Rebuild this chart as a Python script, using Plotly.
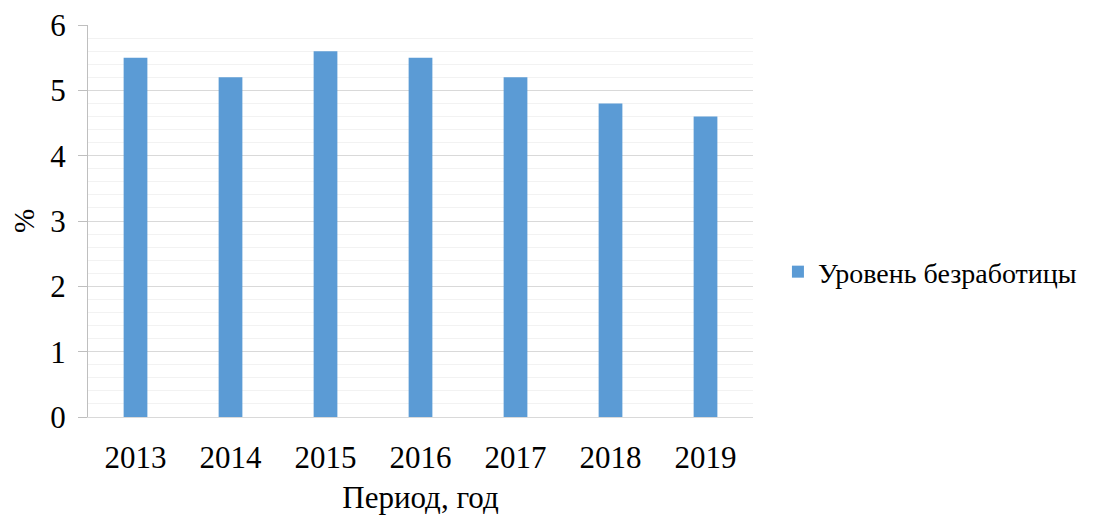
import plotly.graph_objects as go

years = ["2013", "2014", "2015", "2016", "2017", "2018", "2019"]
unemployment = [5.5, 5.2, 5.6, 5.5, 5.2, 4.8, 4.6]
series_name = "Уровень безработицы"

FONT = "Times New Roman, Liberation Serif, serif"

fig = go.Figure()
fig.add_trace(go.Bar(
    x=years, y=unemployment, name=series_name,
    marker=dict(color="#5b9bd5", line=dict(width=0)),
    width=0.25, showlegend=True,
))

fig.update_layout(
    width=1085, height=509,
    paper_bgcolor="white", plot_bgcolor="white",
    margin=dict(l=80, r=340, t=17, b=100, autoexpand=False),
    font=dict(family=FONT, size=31, color="#000000"),
    showlegend=True,
    legend=dict(x=1.0375, y=0.37, xanchor="left", yanchor="middle",
                font=dict(family=FONT, size=28, color="#000000"),
                itemwidth=30, bgcolor="rgba(0,0,0,0)"),
)
fig.update_yaxes(
    range=[0, 6], dtick=1, tick0=0, automargin=False,
    showgrid=True, gridcolor="#d9d9d9", gridwidth=1,
    minor=dict(dtick=0.2, showgrid=True, gridcolor="#f2f2f2", gridwidth=1),
    showline=True, linecolor="#bfbfbf", linewidth=1,
    ticks="outside", ticklen=9, tickcolor="#bfbfbf",
    zeroline=False, ticklabeloverflow="allow", ticklabelstandoff=6,
    tickfont=dict(family=FONT, size=31),
    title=dict(text="%", font=dict(family=FONT, size=29), standoff=17),
)
fig.update_xaxes(
    automargin=False,
    showline=True, linecolor="#d9d9d9", linewidth=1,
    ticks="", showgrid=False, ticklabelstandoff=13,
    tickfont=dict(family=FONT, size=31),
    title=dict(text="Период, год", font=dict(family=FONT, size=31), standoff=12),
)

fig.write_html("out.html")
